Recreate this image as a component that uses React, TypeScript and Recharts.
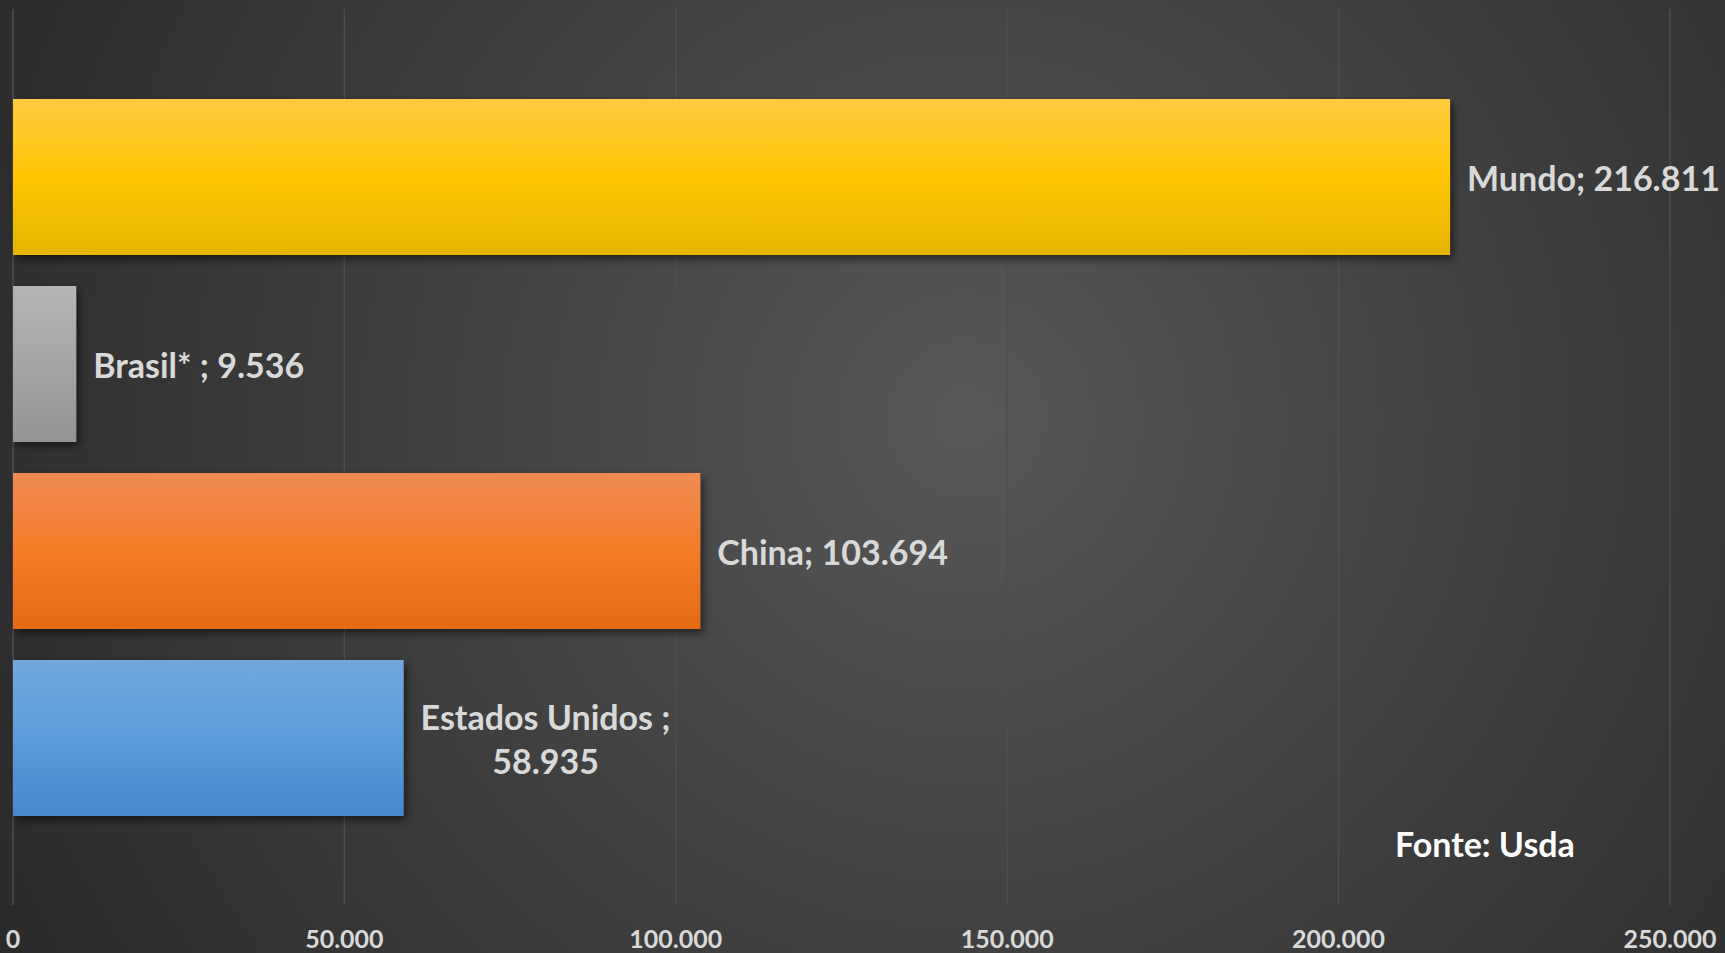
import React from 'react';
import { BarChart, Bar, XAxis, YAxis, CartesianGrid, LabelList } from 'recharts';

const categories = ['Mundo', 'Brasil* ', 'China', 'Estados Unidos '];
const values = [216811, 9536, 103694, 58935];
const xTicks = [0, 50000, 100000, 150000, 200000, 250000];
const sourceNote = 'Fonte: Usda';

// top / middle / bottom of each bar's vertical gradient
const barGradients = [
  ['#ffca42', '#ffc600', '#e6b500'],
  ['#b4b4b4', '#a5a5a5', '#939393'],
  ['#f08b54', '#f37b27', '#e46b16'],
  ['#71a8de', '#5b9bdb', '#4589cb'],
];

const data = categories.map((name, i) => ({ name, value: values[i] }));

const FONT = 'Lato, "Open Sans", sans-serif';
const LABEL_SIZE = 34;

const fmt = (v: number) => String(v).replace(/\B(?=(\d{3})+(?!\d))/g, '.');

let ctx: CanvasRenderingContext2D | null = null;
const measure = (s: string) => {
  if (!ctx) ctx = document.createElement('canvas').getContext('2d');
  if (!ctx) return s.length * LABEL_SIZE * 0.5;
  ctx.font = `bold ${LABEL_SIZE}px Lato`;
  return ctx.measureText(s).width;
};

const BarShape = (props: any) => {
  const { x, y, width, height, index } = props;
  return (
    <rect
      x={x}
      y={y}
      width={width}
      height={height}
      fill={`url(#barGrad${index})`}
      filter="url(#barShadow)"
    />
  );
};

const BarLabel = (props: any) => {
  const vb = props.viewBox || {};
  const x = props.x ?? vb.x;
  const y = props.y ?? vb.y;
  const width = props.width ?? vb.width;
  const height = props.height ?? vb.height;
  const idx = typeof props.index === 'number' ? props.index : values.indexOf(props.value);
  const name = categories[idx];
  const val = fmt(values[idx]);
  const full = `${name}; ${val}`;
  const left = x + width + 17;
  const cy = y + height / 2;
  const style = { fill: '#d9d9d9', fontSize: LABEL_SIZE, fontWeight: 700, fontFamily: FONT };

  if (measure(full) <= 300) {
    return (
      <text x={left} y={cy} dominantBaseline="central" style={style}>
        {full}
      </text>
    );
  }
  // too long for one line: wrap after the ";" and centre both lines
  const line1 = `${name};`;
  const cx = left + measure(line1) / 2;
  return (
    <text x={cx} y={cy} textAnchor="middle" dominantBaseline="central" style={style}>
      <tspan x={cx} dy={-22}>{line1}</tspan>
      <tspan x={cx} dy={44}>{val}</tspan>
    </text>
  );
};

export default function App() {
  return (
    <div
      style={{
        position: 'absolute',
        left: 0,
        top: 0,
        width: 1725,
        height: 953,
        overflow: 'hidden',
        background: 'radial-gradient(circle farthest-corner at 56% 44%, #585858 0%, #3d3d3d 55%, #2a2a2a 100%)',
        fontFamily: FONT,
      }}
    >
      <svg width={0} height={0} style={{ position: 'absolute' }}>
        <defs>
          {barGradients.map((g, i) => (
            <linearGradient key={i} id={`barGrad${i}`} x1="0" y1="0" x2="0" y2="1">
              <stop offset="0%" stopColor={g[0]} />
              <stop offset="50%" stopColor={g[1]} />
              <stop offset="100%" stopColor={g[2]} />
            </linearGradient>
          ))}
          <filter id="barShadow" x="-10%" y="-10%" width="130%" height="140%">
            <feDropShadow dx="3" dy="4" stdDeviation="4" floodColor="#000" floodOpacity="0.55" />
          </filter>
        </defs>
      </svg>

      <BarChart
        width={1725}
        height={953}
        data={data}
        layout="vertical"
        margin={{ top: 9, right: 55, bottom: 0, left: 13 }}
      >
        <CartesianGrid horizontal={false} stroke="#4e4e4e" strokeWidth={1.5} />
        <XAxis
          type="number"
          domain={[0, 250000]}
          ticks={xTicks}
          interval={0}
          tickFormatter={fmt}
          axisLine={false}
          tickLine={false}
          height={48}
          tickMargin={19}
          tick={{ fill: '#d9d9d9', fontSize: 25, fontWeight: 700, fontFamily: FONT }}
        />
        <YAxis type="category" dataKey="name" hide padding={{ top: 74, bottom: 74 }} />
        <Bar dataKey="value" barSize={156} shape={BarShape} isAnimationActive={false}>
          <LabelList dataKey="value" content={BarLabel} />
        </Bar>
      </BarChart>

      <div
        style={{
          position: 'absolute',
          left: 1395,
          top: 825,
          color: '#ffffff',
          fontSize: LABEL_SIZE,
          fontWeight: 700,
          lineHeight: '38px',
          whiteSpace: 'nowrap',
        }}
      >
        {sourceNote}
      </div>
    </div>
  );
}
